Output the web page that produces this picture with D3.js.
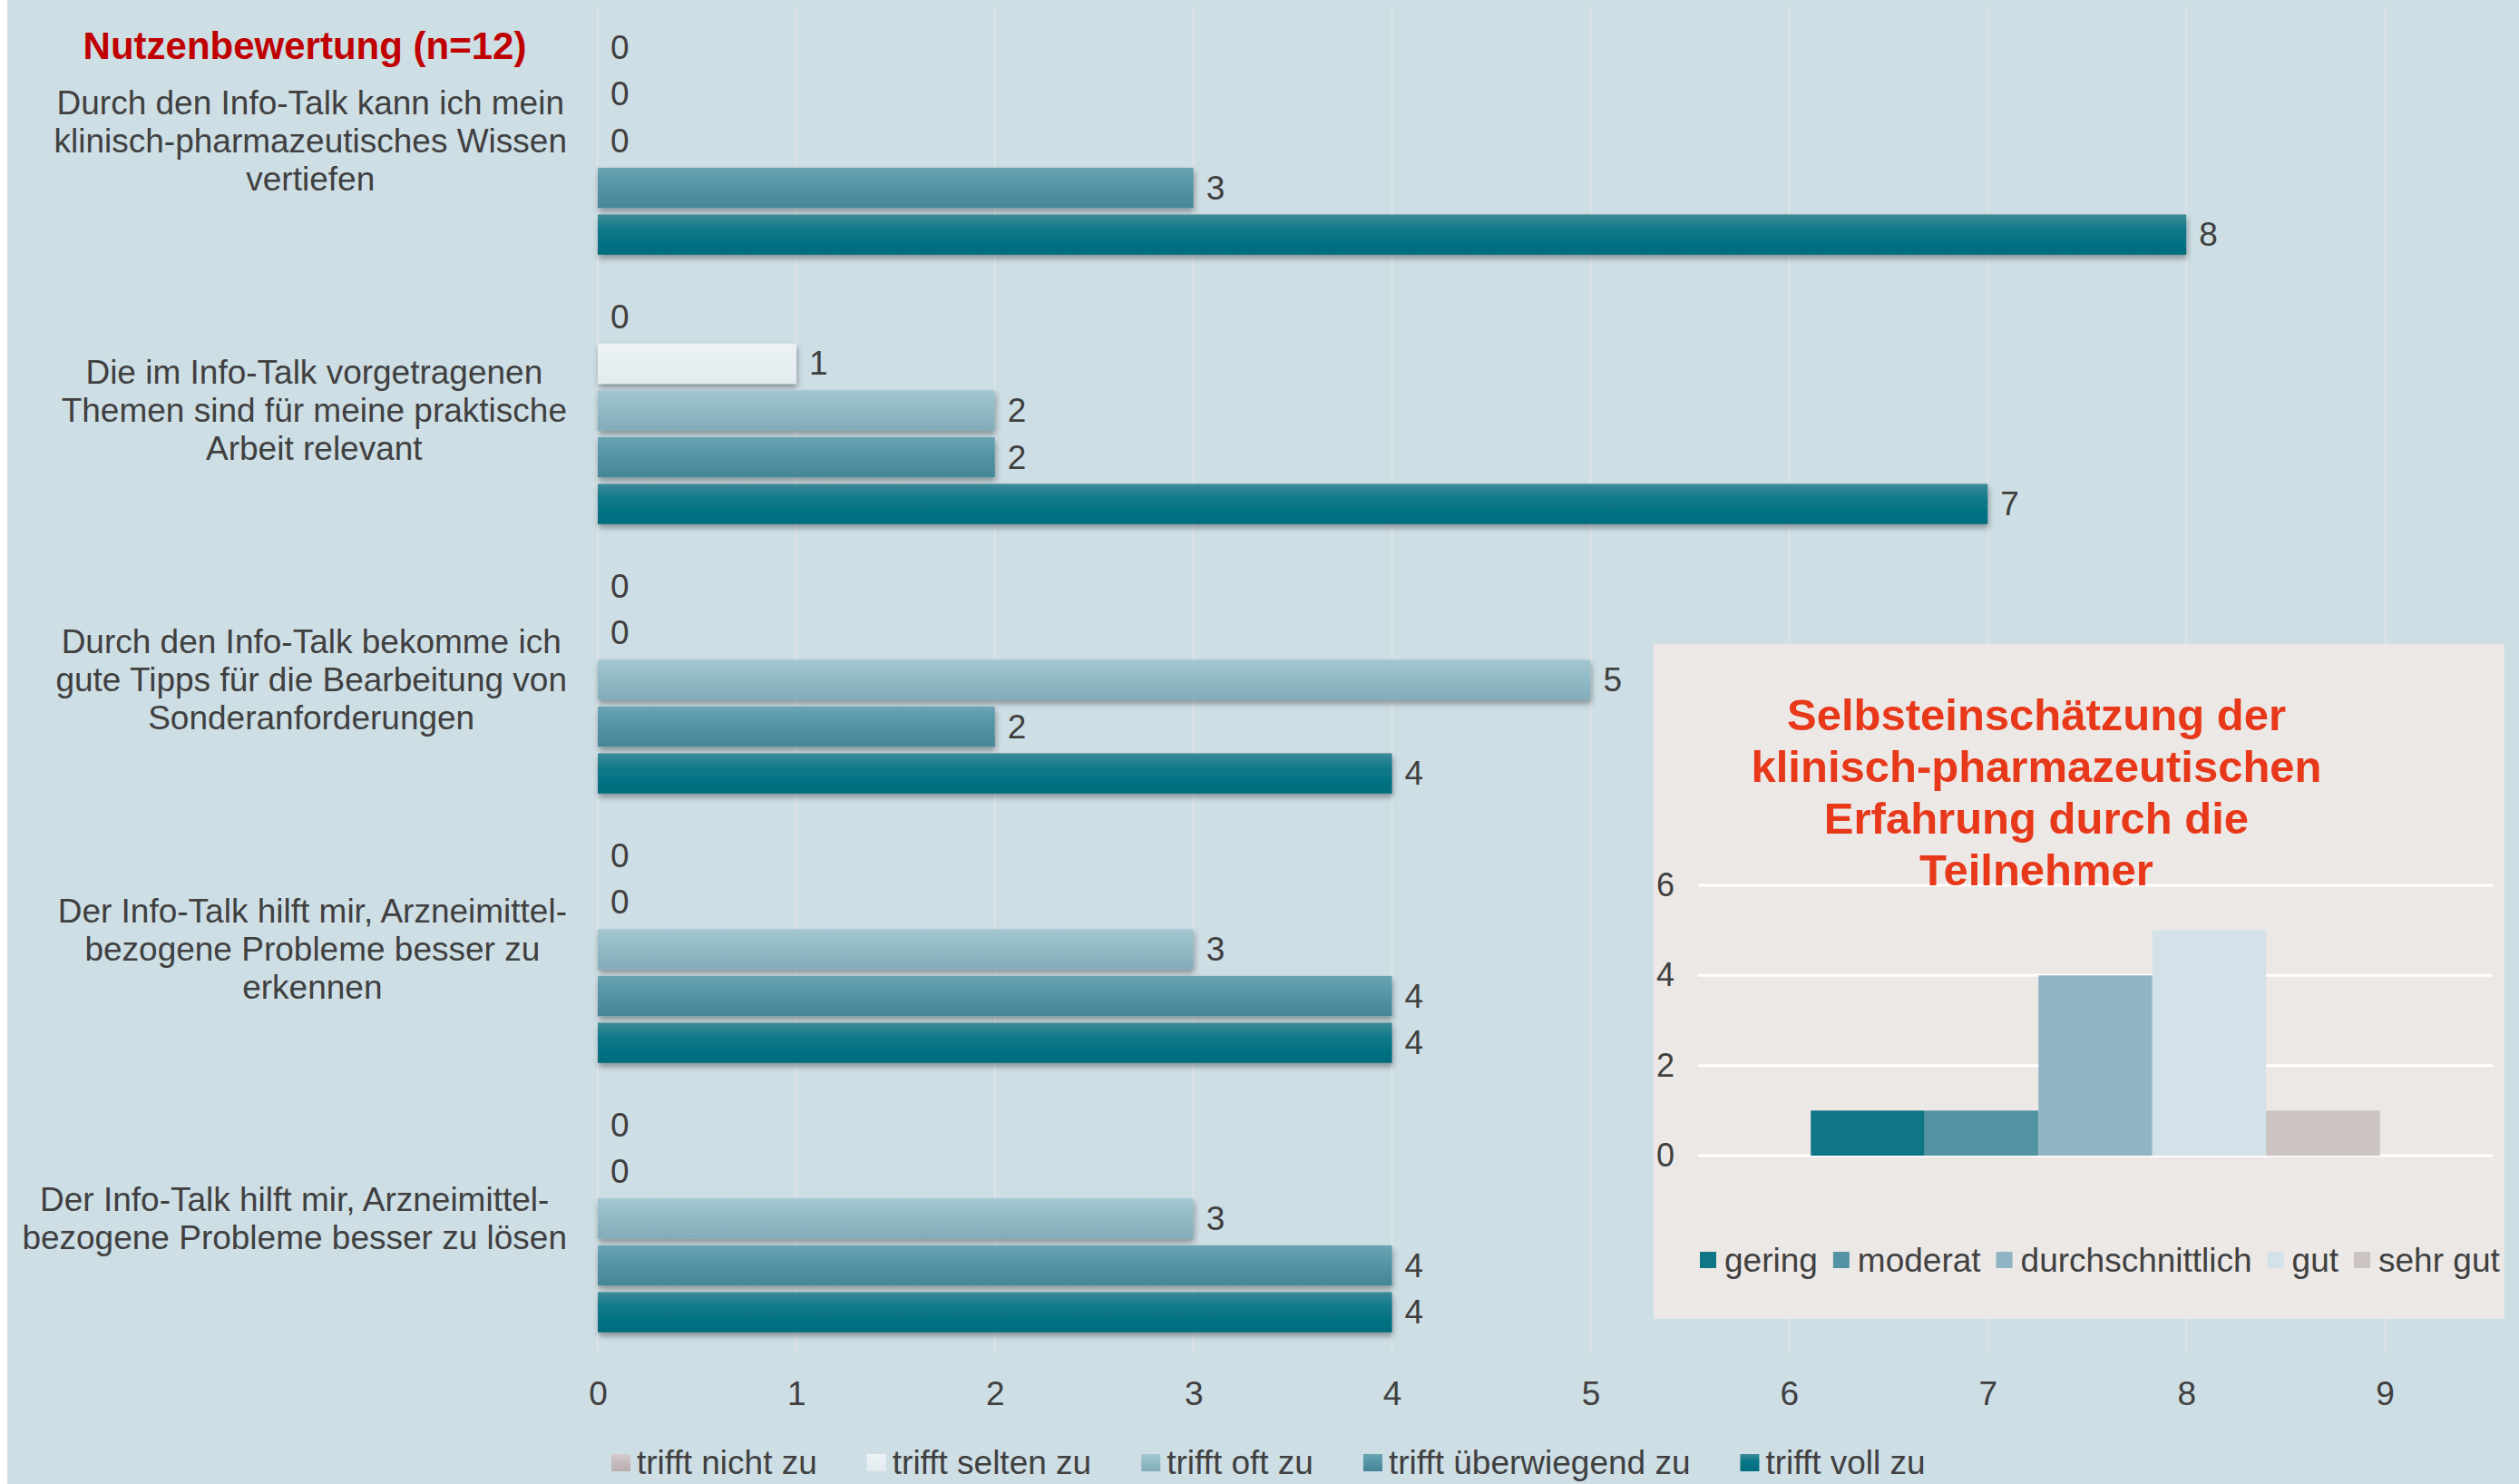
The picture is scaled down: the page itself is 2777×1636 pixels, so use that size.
<!DOCTYPE html>
<html>
<head>
<meta charset="utf-8">
<script src="https://cdn.jsdelivr.net/npm/d3@7"></script>
<style>
  html, body { margin: 0; padding: 0; background: #cddee5; overflow: hidden; }
  svg { display: block; font-family: "Liberation Sans", Arial, sans-serif; }
</style>
</head>
<body>
<div id="chart"></div>
<script>
// --- data ---
const categories = [
  ["Durch den Info-Talk kann ich mein", "klinisch-pharmazeutisches Wissen", "vertiefen"],
  ["Die im Info-Talk vorgetragenen", "Themen sind für meine praktische", "Arbeit relevant"],
  ["Durch den Info-Talk bekomme ich", "gute Tipps für die Bearbeitung von", "Sonderanforderungen"],
  ["Der Info-Talk hilft mir, Arzneimittel-", "bezogene Probleme besser zu", "erkennen"],
  ["Der Info-Talk hilft mir, Arzneimittel-", "bezogene Probleme besser zu lösen"]
];
const seriesNames = ["trifft nicht zu", "trifft selten zu", "trifft oft zu", "trifft überwiegend zu", "trifft voll zu"];
const nichtZu = [0, 0, 0, 0, 0];
const seltenZu = [0, 1, 0, 0, 0];
const oftZu = [0, 2, 5, 3, 3];
const ueberwiegendZu = [3, 2, 2, 4, 4];
const vollZu = [8, 7, 4, 4, 4];
const xTicks = [0, 1, 2, 3, 4, 5, 6, 7, 8, 9];

const insetTitle = ["Selbsteinschätzung der", "klinisch-pharmazeutischen", "Erfahrung durch die", "Teilnehmer"];
const expLevels = ["gering", "moderat", "durchschnittlich", "gut", "sehr gut"];
const expCounts = [1, 1, 4, 5, 1];
const insetTicks = [0, 2, 4, 6];

// --- look ---
const W = 2777, H = 1636;
const textColor = "#404040";
const seriesGrad = [
  ["#d6cccd", "#c8bdbe", "#b9adae"],
  ["#ecf2f4", "#e8eff2", "#e2ebee"],
  ["#a4c7d1", "#93bcc8", "#82acb9"],
  ["#6ba4b3", "#5597a7", "#458696"],
  ["#3e8a98", "#0a7889", "#006c7d"]
];
const expColors = ["#0f7686", "#5393a4", "#8fb4c3", "#d3e2e8", "#ccc3c3"];

const svg = d3.select("#chart").append("svg")
  .attr("width", W).attr("height", H);

const defs = svg.append("defs");
seriesGrad.forEach((stops, i) => {
  const g = defs.append("linearGradient").attr("id", "grad" + i)
    .attr("x1", 0).attr("y1", 0).attr("x2", 0).attr("y2", 1);
  g.append("stop").attr("offset", "0%").attr("stop-color", stops[0]);
  g.append("stop").attr("offset", "40%").attr("stop-color", stops[1]);
  g.append("stop").attr("offset", "100%").attr("stop-color", stops[2]);
});
defs.append("filter").attr("id", "shadow")
  .attr("x", "-5%").attr("y", "-30%").attr("width", "115%").attr("height", "180%")
  .append("feDropShadow")
  .attr("dx", 1).attr("dy", 4).attr("stdDeviation", 3)
  .attr("flood-color", "#000").attr("flood-opacity", 0.35);

svg.append("rect").attr("width", W).attr("height", H).attr("fill", "#cddee5");
svg.append("rect").attr("width", 8).attr("height", H).attr("fill", "#ffffff");

// --- main horizontal bar chart ---
const plotTop = 7, plotBottom = 1492;
const x = d3.scaleLinear().domain([0, 10]).range([659, 659 + 10 * 218.9]);
const y0 = d3.scaleBand().domain(d3.range(categories.length)).range([plotTop, plotBottom]);
const y1 = d3.scaleBand().domain(seriesNames).range([0, y0.bandwidth()])
  .paddingInner(0.14).paddingOuter(0.45);

const seriesValues = [nichtZu, seltenZu, oftZu, ueberwiegendZu, vollZu];

svg.append("g").attr("class", "grid")
  .selectAll("line").data(xTicks).join("line")
  .attr("x1", d => x(d)).attr("x2", d => x(d))
  .attr("y1", plotTop).attr("y2", plotBottom)
  .attr("stroke", "#dde3e6").attr("stroke-width", 2);

const groups = svg.append("g").attr("class", "bars")
  .selectAll("g").data(categories).join("g")
  .attr("transform", (d, i) => `translate(0,${y0(i)})`);

groups.each(function(d, ci) {
  const g = d3.select(this);
  const rows = seriesNames.map((s, si) => ({ s, si, v: seriesValues[si][ci] }));
  g.selectAll("rect").data(rows.filter(r => r.v > 0)).join("rect")
    .attr("x", x(0))
    .attr("y", r => y1(r.s))
    .attr("width", r => x(r.v) - x(0))
    .attr("height", y1.bandwidth())
    .attr("fill", r => `url(#grad${r.si})`)
    .attr("filter", "url(#shadow)");
  g.selectAll("text.val").data(rows).join("text")
    .attr("class", "val")
    .attr("x", r => x(r.v) + 14)
    .attr("y", r => y1(r.s) + y1.bandwidth() / 2)
    .attr("dominant-baseline", "central")
    .attr("font-size", 37).attr("fill", textColor)
    .text(r => r.v);
});

// category labels: each block centred on itself, right edge at the axis
const labelRight = 625, lineH = 42;
categories.forEach((lines, ci) => {
  const t = svg.append("text")
    .attr("font-size", 37).attr("fill", textColor)
    .attr("text-anchor", "middle");
  const cy = y0(ci) + y0.bandwidth() / 2;
  lines.forEach((ln, li) => {
    t.append("tspan")
      .attr("y", cy + (li - (lines.length - 1) / 2) * lineH)
      .attr("dominant-baseline", "central")
      .text(ln);
  });
  let maxW = 0;
  t.selectAll("tspan").each(function() { maxW = Math.max(maxW, this.getComputedTextLength()); });
  t.selectAll("tspan").attr("x", labelRight - maxW / 2);
});

svg.append("text")
  .attr("x", 336).attr("y", 50)
  .attr("text-anchor", "middle").attr("dominant-baseline", "central")
  .attr("font-size", 42).attr("font-weight", "bold").attr("fill", "#c00000")
  .text("Nutzenbewertung (n=12)");

const xAxis = svg.append("g")
  .attr("transform", `translate(0,1536)`)
  .call(d3.axisBottom(x).tickValues(xTicks).tickSize(0).tickPadding(0));
xAxis.select(".domain").remove();
xAxis.selectAll("text")
  .attr("dy", null).attr("dominant-baseline", "central")
  .attr("font-size", 37).attr("fill", textColor)
  .attr("font-family", "Liberation Sans, Arial, sans-serif");

// legend of main chart
let lx = 674;
const legend = svg.append("g").attr("class", "legend");
seriesNames.forEach((s, i) => {
  legend.append("rect")
    .attr("x", lx).attr("y", 1603).attr("width", 21).attr("height", 19)
    .attr("fill", `url(#grad${i})`);
  const t = legend.append("text")
    .attr("x", lx + 28).attr("y", 1612)
    .attr("dominant-baseline", "central")
    .attr("font-size", 37).attr("fill", textColor)
    .text(s);
  lx += 28 + t.node().getComputedTextLength() + 55;
});

// --- inset column chart ---
const inset = svg.append("g").attr("class", "inset");
inset.append("rect")
  .attr("x", 1823).attr("y", 710).attr("width", 938).attr("height", 744)
  .attr("fill", "#ece8e6");

const iy = d3.scaleLinear().domain([0, 6]).range([1274, 976]);
const ix = d3.scaleBand().domain(expLevels).range([1872, 2748])
  .paddingInner(0).paddingOuter(0.99);

inset.selectAll("line.igrid").data(insetTicks).join("line")
  .attr("class", "igrid")
  .attr("x1", 1872).attr("x2", 2748)
  .attr("y1", d => iy(d)).attr("y2", d => iy(d))
  .attr("stroke", "#ffffff").attr("stroke-width", 3);

inset.selectAll("rect.col").data(expLevels).join("rect")
  .attr("class", "col")
  .attr("x", d => ix(d))
  .attr("y", (d, i) => iy(expCounts[i]))
  .attr("width", ix.bandwidth())
  .attr("height", (d, i) => iy(0) - iy(expCounts[i]))
  .attr("fill", (d, i) => expColors[i]);

const yAxis = inset.append("g")
  .attr("transform", "translate(1846,0)")
  .call(d3.axisLeft(iy).tickValues(insetTicks).tickFormat(d3.format("d"))
    .tickSize(0).tickPadding(0));
yAxis.select(".domain").remove();
yAxis.selectAll("text")
  .attr("font-size", 36).attr("fill", textColor)
  .attr("font-family", "Liberation Sans, Arial, sans-serif");

const titleText = inset.append("text")
  .attr("text-anchor", "middle")
  .attr("font-size", 49).attr("font-weight", "bold").attr("fill", "#e8381a");
insetTitle.forEach((ln, i) => {
  titleText.append("tspan").attr("x", 2245).attr("y", 805 + i * 57).text(ln);
});

let ilx = 1874;
expLevels.forEach((s, i) => {
  inset.append("rect")
    .attr("x", ilx).attr("y", 1380).attr("width", 18).attr("height", 18)
    .attr("fill", expColors[i]);
  const t = inset.append("text")
    .attr("x", ilx + 27).attr("y", 1389)
    .attr("dominant-baseline", "central")
    .attr("font-size", 37).attr("fill", textColor)
    .text(s);
  ilx += 27 + t.node().getComputedTextLength() + 17;
});
</script>
</body>
</html>
